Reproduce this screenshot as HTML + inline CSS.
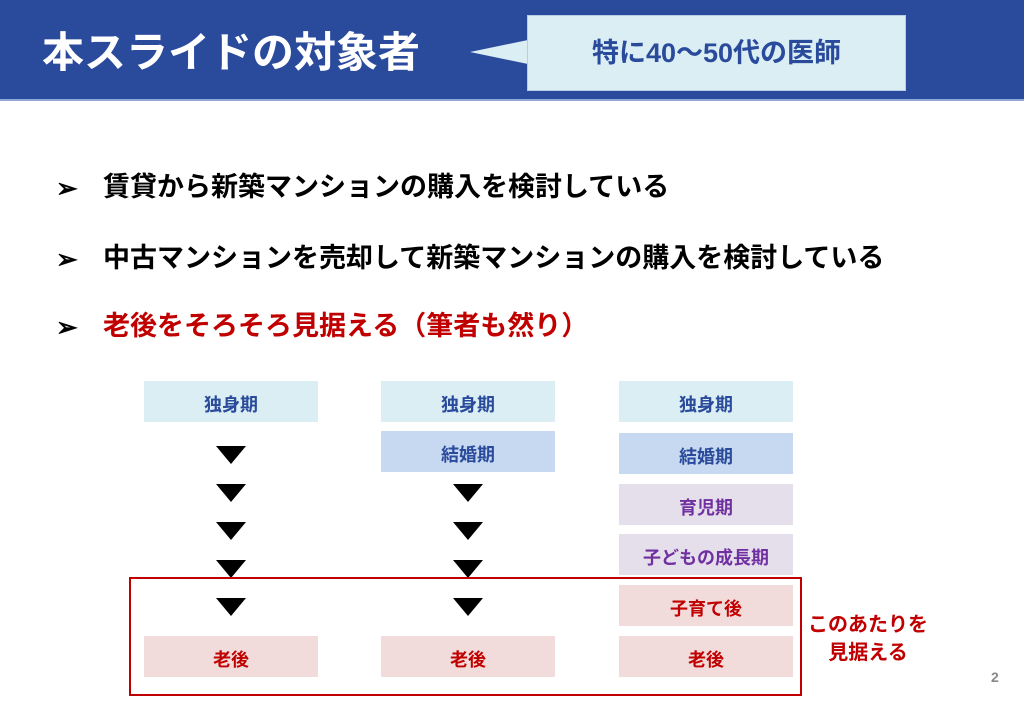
<!DOCTYPE html>
<html><head><meta charset="utf-8"><style>
*{margin:0;padding:0;box-sizing:border-box}
body{width:1024px;height:709px;background:#fff;position:relative;overflow:hidden;font-family:"Liberation Sans","Noto Sans CJK JP",sans-serif;font-weight:bold}
.a{position:absolute}
.hdr{left:0;top:0;width:1024px;height:101px;background:#2a4a9c;border-bottom:2px solid #8fa8d8}
.t{white-space:nowrap;line-height:1}
.box{position:absolute;width:174px;height:41px;display:flex;align-items:center;justify-content:center;font-size:18px;white-space:nowrap;padding-top:5px}
.b1{background:#daeef3;color:#2a4a9c}
.b2{background:#c6d9f0;color:#2a4a9c}
.b3{background:#e5dfec;color:#7030a0}
.b4{background:#f2dcdb;color:#c00000}
.tri{position:absolute;width:0;height:0;border-left:15px solid transparent;border-right:15px solid transparent;border-top:18px solid #000}
</style></head><body>
<div class="a hdr"></div>
<div class="a t" style="left:42px;top:32px;font-size:42px;color:#fff">本スライドの対象者</div>
<svg class="a" style="left:468px;top:38px" width="62" height="28"><polygon points="2,14 60,2 60,26" fill="#daeef3"/></svg>
<div class="a" style="left:527px;top:15px;width:379px;height:76px;background:#daeef3;border:1px solid #b8cce4"></div>
<div class="a t" style="left:527px;top:40px;width:379px;text-align:center;font-size:27px;color:#2a4a9c">特に40〜50代の医師</div>

<div class="a t" style="left:56px;top:175px;font-size:26px">➢</div>
<div class="a t" style="left:103px;top:174px;font-size:27px;color:#000">賃貸から新築マンションの購入を検討している</div>
<div class="a t" style="left:56px;top:246px;font-size:26px">➢</div>
<div class="a t" style="left:103px;top:245px;font-size:27px;color:#000">中古マンションを売却して新築マンションの購入を検討している</div>
<div class="a t" style="left:56px;top:314px;font-size:26px">➢</div>
<div class="a t" style="left:103px;top:313px;font-size:27px;color:#c00000">老後をそろそろ見据える（筆者も然り）</div>

<div class="box b1" style="left:144px;top:381px">独身期</div>
<div class="box b1" style="left:381px;top:381px">独身期</div>
<div class="box b1" style="left:619px;top:381px">独身期</div>
<div class="box b2" style="left:381px;top:431px">結婚期</div>
<div class="box b2" style="left:619px;top:433px">結婚期</div>
<div class="box b3" style="left:619px;top:484px">育児期</div>
<div class="box b3" style="left:619px;top:534px">子どもの成長期</div>
<div class="box b4" style="left:619px;top:585px">子育て後</div>
<div class="box b4" style="left:144px;top:636px">老後</div>
<div class="box b4" style="left:381px;top:636px">老後</div>
<div class="box b4" style="left:619px;top:636px">老後</div>

<div class="tri" style="left:216px;top:446px"></div>
<div class="tri" style="left:216px;top:484px"></div>
<div class="tri" style="left:216px;top:522px"></div>
<div class="tri" style="left:216px;top:560px"></div>
<div class="tri" style="left:216px;top:598px"></div>
<div class="tri" style="left:453px;top:484px"></div>
<div class="tri" style="left:453px;top:522px"></div>
<div class="tri" style="left:453px;top:560px"></div>
<div class="tri" style="left:453px;top:598px"></div>

<div class="a" style="left:129px;top:577px;width:673px;height:119px;border:2px solid #c00000"></div>
<div class="a t" style="left:808px;top:611px;font-size:20px;color:#c00000;text-align:center;line-height:28px">このあたりを<br>見据える</div>
<div class="a t" style="left:991px;top:670px;font-size:14px;color:#888">2</div>
</body></html>
